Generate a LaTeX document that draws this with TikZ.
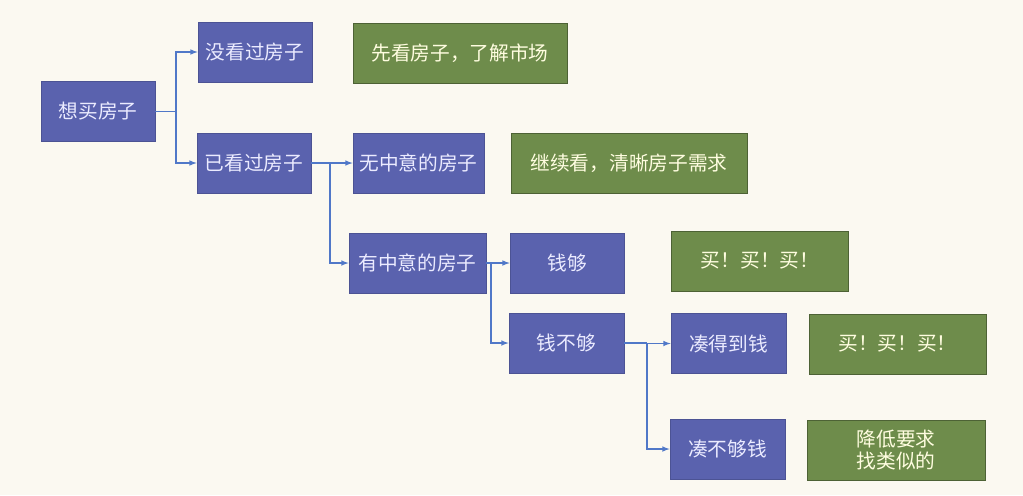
\documentclass[tikz,border=0pt]{standalone}
\usepackage{fontspec}
\setmainfont{Noto Sans CJK SC}
\usepackage{xcolor}
\usepackage{tikz}
\usetikzlibrary{arrows}
\usetikzlibrary{calc}
\definecolor{boxblue}{HTML}{5A62AE}
\definecolor{boxgreen}{HTML}{6E8C4B}
\definecolor{linecolor}{HTML}{5078C8}
\definecolor{paper}{HTML}{FBF9F1}

\begin{document}
\begin{tikzpicture}[x=0.025cm,y=-0.025cm,
  blue/.style={draw=boxblue!85!black,line width=0.4pt,fill=boxblue,text=white!92!blue,
    minimum height=1.5cm,inner sep=0pt,font=\fontsize{14}{17}\selectfont},
  green/.style={draw=boxgreen!70!black,line width=0.4pt,fill=boxgreen,text=yellow!12!white,
    minimum height=1.5cm,inner sep=0pt,align=center,font=\fontsize{14}{17}\selectfont},
  link/.style={linecolor,line width=0.8pt,-latex}]
%% paper
\fill[paper] (0,0) rectangle (1023,495);
\useasboundingbox (0,0) rectangle (1023,495);

\node[blue,minimum width=2.85cm] (want) at (98,111.5) {想买房子};
\node[blue,minimum width=2.85cm] (notseen) at (255,52) {没看过房子};
\node[green,minimum width=5.35cm] (market) at (460,53) {先看房子，了解市场};
\node[blue,minimum width=2.85cm] (seen) at (254,163) {已看过房子};
\node[blue,minimum width=3.28cm] (nolike) at (418.5,163) {无中意的房子};
\node[green,minimum width=5.9cm] (keep) at (629,163) {继续看，清晰房子需求};
\node[blue,minimum width=3.43cm] (like) at (417.5,263) {有中意的房子};
\node[blue,minimum width=2.85cm] (enough) at (567,263) {钱够};
\node[green,minimum width=4.43cm] (buyA) at (760,261) {买！买！买！};
\node[blue,minimum width=2.88cm] (short) at (566.5,343) {钱不够};
\node[blue,minimum width=2.88cm] (raise) at (728.5,343.5) {凑得到钱};
\node[green,minimum width=4.43cm] (buyB) at (897.5,344) {买！买！买！};
\node[blue,minimum width=2.88cm] (fail) at (727.5,449) {凑不够钱};
\node[green,minimum width=4.45cm] (lower) at (896,450) {降低要求\\[-2pt]找类似的};

%% joints
\coordinate (j1) at (176,111.5);
\coordinate (j2) at (330,163);
\coordinate (j3) at (491,263);
\coordinate (j4) at (647,343);

\draw[linecolor,line width=0.8pt] (want.east) -- (j1);
\draw[link] (j1) |- (notseen.west);
\draw[link] (j1) |- (seen.west);
\draw[linecolor,line width=0.8pt] (seen.east) -- (j2);
\draw[link] (j2) |- (nolike.west);
\draw[link] (j2) |- (like.west);
\draw[linecolor,line width=0.8pt] (like.east) -- (j3);
\draw[link] (j3) |- (enough.west);
\draw[link] (j3) |- (short.west);
\draw[linecolor,line width=0.8pt] (short.east) -- (j4);
\draw[link] (j4) |- (raise.west);
\draw[link] (j4) |- (fail.west);
\end{tikzpicture}
\end{document}
